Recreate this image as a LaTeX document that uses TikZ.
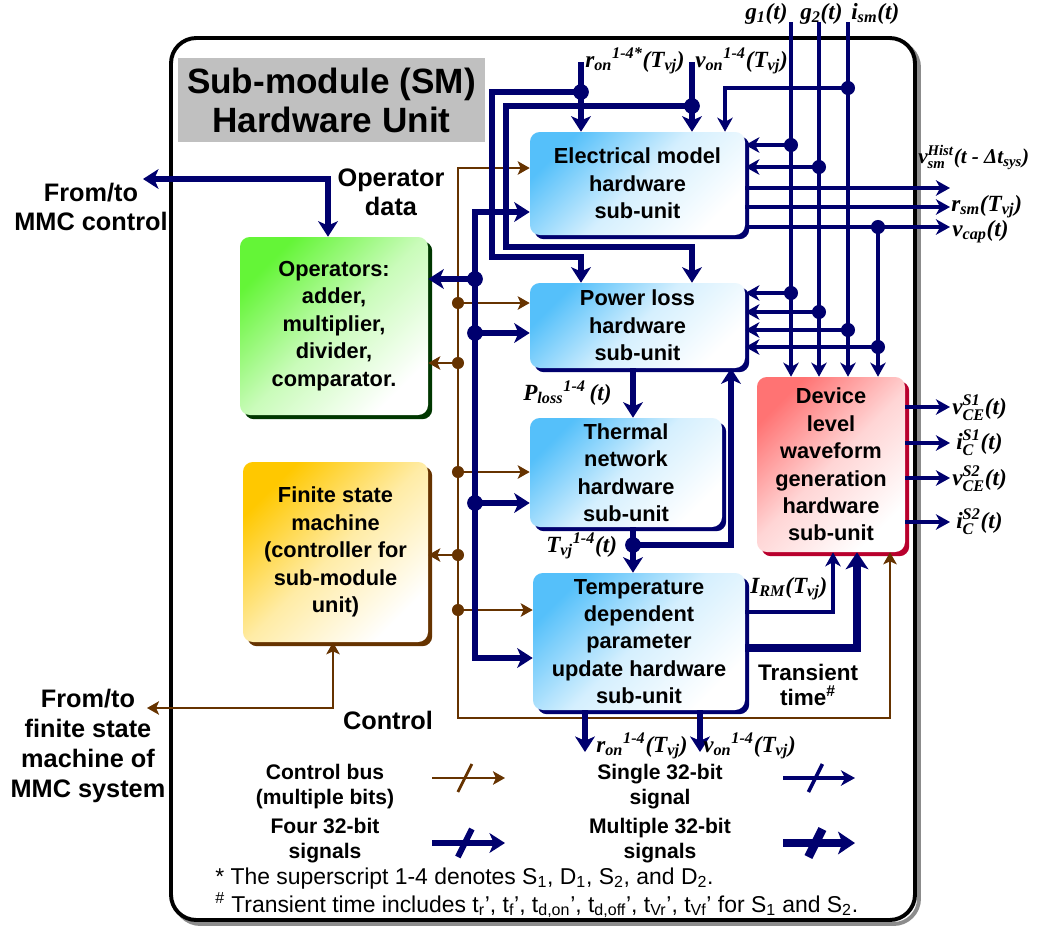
\documentclass[tikz,border=0pt]{standalone}
\usepackage{fontspec}
\usepackage{amsmath}
\setmainfont{Liberation Sans}
\newfontfamily\labfont{Liberation Serif}
\usetikzlibrary{arrows.meta,shadows,calc}
\definecolor{nvy}{RGB}{0,0,110}
\definecolor{brn}{RGB}{102,51,0}
\definecolor{skyb}{RGB}{85,192,250}
\definecolor{grnb}{RGB}{100,245,55}
\definecolor{ylwb}{RGB}{255,200,0}
\definecolor{pnkb}{RGB}{255,115,115}
\definecolor{dkgrn}{RGB}{0,55,0}
\definecolor{dkred}{RGB}{185,0,45}
\definecolor{ttlgray}{RGB}{192,192,192}
\newcommand{\pxu}{0.7113pt}
\newcommand{\boxfont}{\fontsize{15.5}{19.5}\selectfont\bfseries}
\newcommand{\labf}{\labfont\fontsize{16.5}{19}\selectfont\bfseries\itshape}
\newcommand{\sidef}{\fontsize{18}{20.8}\selectfont\bfseries}
\newcommand{\legf}{\fontsize{15}{17.8}\selectfont\bfseries}
\newcommand{\notef}{\fontsize{16.3}{19}\selectfont}
\newcommand{\lsub}[1]{$_{\text{#1}}$}
\newcommand{\lsup}[1]{$^{\text{#1}}$}
\newcommand{\lss}[2]{$^{\text{#1}}_{\text{#2}}$}
\tikzset{
  tS/.tip={Stealth[length=10pt,width=11pt,inset=3pt]},
  tF/.tip={Stealth[length=11pt,width=14pt,inset=3pt]},
  tM/.tip={Stealth[length=12pt,width=16pt,inset=3pt]},
  tC/.tip={Stealth[length=8.5pt,width=9.5pt,inset=2pt]},
  sgl/.style={draw=nvy, line width=2.5pt},
  fr/.style={draw=nvy, line width=4.2pt},
  mlt/.style={draw=nvy, line width=6.2pt},
  ctl/.style={draw=brn, line width=2pt},
  wh/.style 2 args={minimum width=#1*\pxu, minimum height=#2*\pxu},
  box/.style={rounded corners=7pt, inner sep=0pt, align=center, font=\boxfont},
  bluebox/.style={box, top color=skyb, bottom color=white, middle color=skyb!25!white, shading angle=45,
     drop shadow={shadow xshift=3pt, shadow yshift=-3pt, fill=nvy, opacity=1}},
  redbox/.style={box, top color=pnkb, bottom color=white, middle color=pnkb!30!white, shading angle=45,
     drop shadow={shadow xshift=3pt, shadow yshift=-3pt, fill=dkred, opacity=1}},
  greenbox/.style={box, top color=grnb, bottom color=white, middle color=grnb!35!white, shading angle=45,
     drop shadow={shadow xshift=3pt, shadow yshift=-3pt, fill=dkgrn, opacity=1}},
  yellowbox/.style={box, top color=ylwb, bottom color=white, middle color=ylwb!35!white, shading angle=45,
     drop shadow={shadow xshift=3pt, shadow yshift=-3pt, fill=brn, opacity=1}},
  lab/.style={inner sep=0pt, font=\labf},
  side/.style={inner sep=0pt, align=center, font=\sidef},
  leg/.style={inner sep=0pt, align=center, font=\legf},
  note/.style={inner sep=0pt, anchor=base west, font=\notef},
}
\begin{document}
\begin{tikzpicture}[x=\pxu, y=-\pxu]
\useasboundingbox (0,0) rectangle (1037,932);
% frame
\draw[line width=2.8pt, draw=black!45, rounded corners=18pt] (175,42) rectangle (919,924);
\draw[line width=2.8pt, draw=black, fill=white, rounded corners=18pt] (171,38) rectangle (915,920);
% title
\node[fill=ttlgray, wh={307}{84}, inner sep=0pt, align=center, font=\fontsize{25}{27.7}\selectfont\bfseries] (title) at (331.5,100) {Sub-module (SM)\\Hardware Unit};

% boxes
\node[bluebox, wh={215}{103}] (elec) at (637.5,183.5) {Electrical model\\hardware\\sub-unit};
\node[bluebox, wh={215}{85}] (ploss) at (637.5,325.5) {Power loss\\hardware\\sub-unit};
\node[bluebox, wh={192}{109}] (therm) at (626,472.5) {Thermal\\network\\hardware\\sub-unit};
\node[bluebox, wh={212}{137}] (temp) at (639,641.5) {Temperature\\dependent\\parameter\\update hardware\\sub-unit};
\node[redbox, wh={148}{175}] (dev) at (831,464.5) {Device\\level\\waveform\\generation\\hardware\\sub-unit};
\node[greenbox, wh={188}{178}] (ops) at (334,326) {Operators:\\adder,\\multiplier,\\divider,\\comparator.};
\node[yellowbox, wh={185}{180}] (fsm) at (335.5,552) {Finite state\\machine\\(controller for\\sub-module\\unit)};

% coordinates
\coordinate (g1s) at (791,22);
\coordinate (g2s) at (819,22);
\coordinate (isms) at (848,22);
\coordinate (g1a) at (791,145);
\coordinate (g1b) at (791,293);
\coordinate (g2a) at (819,167);
\coordinate (g2b) at (819,312);
\coordinate (isma) at (848,88);
\coordinate (ismb) at (848,330);
\coordinate (iin) at (725,88);
\coordinate (vc1) at (878,227);
\coordinate (vc2) at (878,347);
\coordinate (o1) at (950,188);
\coordinate (o2) at (950,207);
\coordinate (o3) at (950,227);
\coordinate (irm) at (833,612);
\coordinate (trn) at (857,648);
\coordinate (d1) at (950,407);
\coordinate (d2) at (950,443);
\coordinate (d3) at (950,478);
\coordinate (d4) at (950,522);
\coordinate (rons) at (581,62);
\coordinate (rond) at (581,92);
\coordinate (rl1) at (492,92);
\coordinate (rl2) at (492,257);
\coordinate (vons) at (692,62);
\coordinate (vond) at (692,106);
\coordinate (vl1) at (506,106);
\coordinate (vl2) at (506,247);
\coordinate (bt) at (475,212);
\coordinate (bb) at (475,658);
\coordinate (b1) at (475,279);
\coordinate (b2) at (475,333);
\coordinate (b3) at (475,503);
\coordinate (pt) at (633,395);
\coordinate (tj) at (633,545);
\coordinate (fb) at (731,450);
\coordinate (ro) at (585,752);
\coordinate (vo) at (700,752);
\coordinate (mmc) at (143,179);
\coordinate (opin) at (328,200);
\coordinate (ct) at (458,168);
\coordinate (cb) at (458,718);
\coordinate (cr) at (890,718);
\coordinate (c1) at (458,303);
\coordinate (c2) at (458,363);
\coordinate (c3) at (458,472);
\coordinate (c4) at (458,555);
\coordinate (c5) at (458,610);
\coordinate (fx) at (147,708);
\coordinate (fxin) at (333,680);

% control bus (brown)
\draw[ctl, {tC}-{tC}] (elec.west |- ct) -- (ct) -- (cb) -- (cr) -- (dev.south -| cr);
\draw[ctl, -tC] (c1) -- (ploss.west |- c1);
\draw[ctl, -tC] (c2) -- (ops.east |- c2);
\draw[ctl, -tC] (c3) -- (therm.west |- c3);
\draw[ctl, -tC] (c4) -- (fsm.east |- c4);
\draw[ctl, -tC] (c5) -- (temp.west |- c5);
\draw[ctl, {tC}-{tC}] (fx) -| (fsm.south -| fxin);

% four 32-bit
\draw[fr, -tF] (rons) -- (elec.north -| rons);
\draw[fr, -tF] (rond) -- (rl1) -- (rl2) -| (ploss.north -| rons);
\draw[fr, -tF] (vons) -- (elec.north -| vons);
\draw[fr, -tF] (vond) -- (vl1) -- (vl2) -| (ploss.north -| vons);
\draw[fr, {tF}-{tF}] (elec.west |- bt) -- (bt) -- (bb) -- (temp.west |- bb);
\draw[fr, -tF] (b1) -- (ops.east |- b1);
\draw[fr, -tF] (b2) -- (ploss.west |- b2);
\draw[fr, -tF] (b3) -- (therm.west |- b3);
\draw[fr, -tF] (ploss.south -| pt) -- (therm.north -| pt);
\draw[fr, -tF] (therm.south -| tj) -- (temp.north -| tj);
\draw[fr, -tF] (tj) -| (ploss.south -| fb);
\draw[fr, -tF] (temp.south -| ro) -- (ro);
\draw[fr, -tF] (temp.south -| vo) -- (vo);
\draw[fr, {tF}-{tF}] (mmc) -| (ops.north -| opin);

% multiple 32-bit
\draw[mlt, -tM] (temp.east |- trn) -| (dev.south -| trn);

% single 32-bit
\draw[sgl, -tS] (g1s) -- (dev.north -| g1s);
\draw[sgl, -tS] (g2s) -- (dev.north -| g2s);
\draw[sgl, -tS] (isms) -- (dev.north -| isms);
\draw[sgl, -tS] (vc1) -- (dev.north -| vc1);
\draw[sgl, -tS] (g1a) -- (elec.east |- g1a);
\draw[sgl, -tS] (g2a) -- (elec.east |- g2a);
\draw[sgl, -tS] (isma) -| (elec.north -| iin);
\draw[sgl, -tS] (g1b) -- (ploss.east |- g1b);
\draw[sgl, -tS] (g2b) -- (ploss.east |- g2b);
\draw[sgl, -tS] (ismb) -- (ploss.east |- ismb);
\draw[sgl, -tS] (vc2) -- (ploss.east |- vc2);
\draw[sgl, -tS] (elec.east |- o1) -- (o1);
\draw[sgl, -tS] (elec.east |- o2) -- (o2);
\draw[sgl, -tS] (elec.east |- o3) -- (o3);
\draw[sgl, -tS] (temp.east |- irm) -| (dev.south -| irm);
\draw[sgl, -tS] (dev.east |- d1) -- (d1);
\draw[sgl, -tS] (dev.east |- d2) -- (d2);
\draw[sgl, -tS] (dev.east |- d3) -- (d3);
\draw[sgl, -tS] (dev.east |- d4) -- (d4);

% junction dots
\foreach \p in {g1a,g1b,g2a,g2b,isma,ismb,vc1,vc2} \fill[nvy] (\p) circle[radius=5pt];
\foreach \p in {rond,vond,b1,b2,b3,tj} \fill[nvy] (\p) circle[radius=5.6pt];
\foreach \p in {c1,c2,c3,c4,c5} \fill[brn] (\p) circle[radius=4.3pt];

% signal labels
\node[lab, anchor=base west] (lg1) at (745,19) {g\lsub{1}(t)};
\node[lab, anchor=base west] (lg2) at (800,19) {g\lsub{2}(t)};
\node[lab, anchor=base west] (lism) at (851,19) {i\lsub{sm}(t)};
\node[lab, anchor=base west] (lron) at (585,67) {r\lsub{on}\lsup{1-4*}(T\lsub{vj})};
\node[lab, anchor=base west] (lvon) at (695,67) {v\lsub{on}\lsup{1-4}(T\lsub{vj})};
\node[lab, anchor=base west, font=\labfont\fontsize{15}{17}\selectfont\bfseries\itshape] (lvh) at (918,163) {v\lss{Hist}{sm}(t - Δt\lsub{sys})};
\node[lab, anchor=base west] (lrsm) at (951,211) {r\lsub{sm}(T\lsub{vj})};
\node[lab, anchor=base west] (lvcap) at (952,236) {v\lsub{cap}(t)};
\node[lab, anchor=base west] (lploss) at (523,400) {P\lsub{loss}\lsup{1-4}\,(t)};
\node[lab, anchor=base west] (ltvj) at (546,552) {T\lsub{vj}\lsup{1-4}(t)};
\node[lab, anchor=base west] (lirm) at (750,593) {I\lsub{RM}(T\lsub{vj})};
\node[lab, anchor=base west] (lron2) at (596,752) {r\lsub{on}\lsup{1-4}(T\lsub{vj})};
\node[lab, anchor=base west] (lvon2) at (703,752) {v\lsub{on}\lsup{1-4}(T\lsub{vj})};
\node[lab, anchor=base west] (lv1) at (952,414) {v\lss{S1}{CE}(t)};
\node[lab, anchor=base west] (li1) at (956,449) {i\lss{S1}{C}(t)};
\node[lab, anchor=base west] (lv2) at (952,485) {v\lss{S2}{CE}(t)};
\node[lab, anchor=base west] (li2) at (956,528) {i\lss{S2}{C}(t)};

% side texts
\node[side] (mmctxt) at (91,207) {From/to\\MMC control};
\node[side] (opdata) at (391,192) {Operator\\data};
\node[side, font=\fontsize{18}{21.3}\selectfont\bfseries] (fsmtxt) at (88,746) {From/to\\finite state\\machine of\\MMC system};
\node[side] (ctrltxt) at (388,720) {Control};
\node[side, font=\fontsize{16}{17.8}\selectfont\bfseries] (trtxt) at (808,685) {Transient\\time\textsuperscript{\#}};

% legend
\coordinate (la1) at (432,778);
\coordinate (la2) at (505,778);
\coordinate (lb1) at (783,778);
\coordinate (lb2) at (855,778);
\coordinate (lc1) at (432,843);
\coordinate (lc2) at (505,843);
\coordinate (ld1) at (783,843);
\coordinate (ld2) at (855,843);
\node[leg] (lgt1) at (325,787) {Control bus\\(multiple bits)};
\node[leg] (lgt2) at (660,787) {Single 32-bit\\signal};
\node[leg] (lgt3) at (325,841) {Four 32-bit\\signals};
\node[leg] (lgt4) at (660,841) {Multiple 32-bit\\signals};
\draw[ctl, -tC] (la1) -- (la2);
\draw[ctl] ($(la1)!0.45!(la2)+(-7,14)$) -- ++(14,-28);
\draw[sgl, -tS] (lb1) -- (lb2);
\draw[sgl] ($(lb1)!0.45!(lb2)+(-7,14)$) -- ++(14,-28);
\draw[fr, -tF] (lc1) -- (lc2);
\draw[fr] ($(lc1)!0.45!(lc2)+(-7,14)$) -- ++(14,-28);
\draw[mlt, -tM] (ld1) -- (ld2);
\draw[mlt] ($(ld1)!0.45!(ld2)+(-7,14)$) -- ++(14,-28);

% footnotes
\node[note] (fn1) at (215,884) {* The superscript 1-4 denotes S\textsubscript{1}, D\textsubscript{1}, S\textsubscript{2}, and D\textsubscript{2}.};
\node[note] (fn2) at (215,912) {\textsuperscript{\#} Transient time includes t\textsubscript{r}’, t\textsubscript{f}’, t\textsubscript{d,on}’, t\textsubscript{d,off}’, t\textsubscript{Vr}’, t\textsubscript{Vf}’ for S\textsubscript{1} and S\textsubscript{2}.};
\end{tikzpicture}
\end{document}
